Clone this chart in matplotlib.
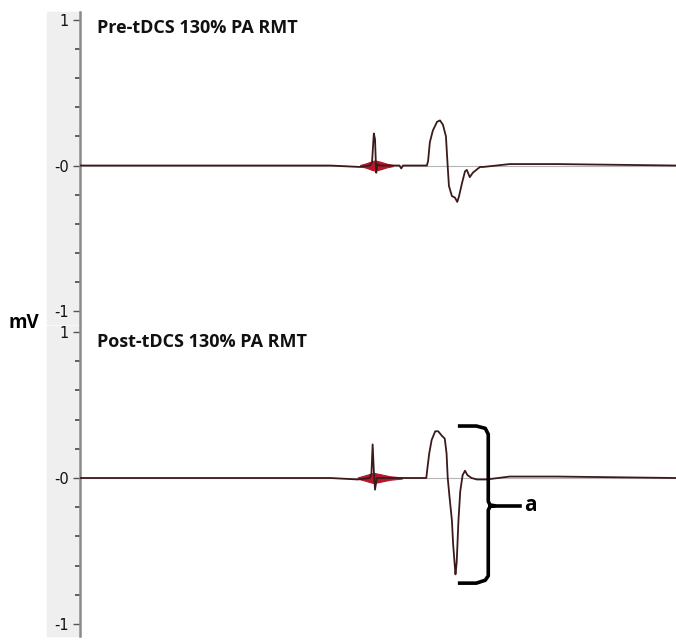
import matplotlib.pyplot as plt
from matplotlib.patches import Rectangle
import numpy as np

# MEP traces, time in ms (0-100 across the panel), amplitude in mV
pre_t = [0, 42, 47.0, 48.6, 49.0, 49.3, 49.5, 49.7, 49.9, 50.3, 52.5, 53.6, 53.9, 54.2,
         58.2, 58.4, 58.7, 59.2, 59.9, 60.4, 60.9, 61.4, 61.6, 61.7, 61.9, 62.4,
         62.9, 63.3, 63.6, 64.1, 64.6, 64.9, 65.4, 65.9, 67.1, 67.6, 72.1, 80, 100]
pre_v = [0, 0, -0.01, 0.0, 0.02, 0.22, 0.18, -0.05, 0.01, 0.0, 0.0, 0.0, -0.02, 0.0,
         0.0, 0.03, 0.16, 0.24, 0.30, 0.31, 0.28, 0.20, 0.06, -0.01, -0.14, -0.21,
         -0.22, -0.25, -0.21, -0.12, -0.04, -0.03, -0.08, -0.05, -0.01, -0.01, 0.01, 0.01, 0.0]

post_t = [0, 42, 46.6, 48.6, 48.9, 49.1, 49.3, 49.5, 49.8, 50.2, 54.0,
          58.1, 58.3, 58.6, 59.0, 59.6, 60.1, 60.7, 61.2, 61.5, 61.7, 62.0, 62.4,
          62.6, 62.9, 63.0, 63.2, 63.5, 63.8, 64.2, 64.6, 65.0, 65.7, 66.6, 68.2,
          72.1, 80, 100]
post_v = [0, 0, -0.01, 0.0, 0.03, 0.23, 0.05, -0.08, 0.0, 0.0, 0.0,
          0.0, 0.07, 0.17, 0.26, 0.32, 0.32, 0.29, 0.27, 0.17, 0.0, -0.13, -0.29,
          -0.45, -0.61, -0.66, -0.58, -0.29, -0.09, 0.02, 0.05, 0.02, 0.0, -0.01, -0.01,
          0.01, 0.01, 0.0]

# stimulus artefact envelope (red)
pre_art_t = [47.0, 48.0, 49.0, 49.5, 50.5, 51.5, 52.5]
pre_art_a = [0.004, 0.015, 0.03, 0.035, 0.025, 0.012, 0.004]
post_art_t = [46.6, 47.8, 48.8, 49.3, 50.5, 52.0, 54.0]
post_art_a = [0.004, 0.018, 0.03, 0.035, 0.025, 0.012, 0.004]

titles = ["Pre-tDCS 130% PA RMT", "Post-tDCS 130% PA RMT"]

trace_col = "#3b1a1c"
red = "#b3182c"

W, H = 676, 640
fig = plt.figure(figsize=(W / 100, H / 100), dpi=100)

panels = [
    (12, 324, (-1.089, 1.055), pre_t, pre_v, pre_art_t, pre_art_a, 28),
    (326, 636, (-1.082, 1.041), post_t, post_v, post_art_t, post_art_a, 342),
]

axes = []
for i, (ytop, ybot, ylim, t, v, at, aa, ty) in enumerate(panels):
    # grey strip behind tick labels
    fig.patches.append(Rectangle((47 / W, 1 - ybot / H), 33 / W, (ybot - ytop) / H,
                                 transform=fig.transFigure, color="#efefef", zorder=-5))
    ax = fig.add_axes([80 / W, 1 - ybot / H, 596 / W, (ybot - ytop) / H])
    ax.set_facecolor("none")
    ax.axhline(0, color="#b5b5b5", lw=0.8, zorder=1)
    ax.fill_between(at, [-a for a in aa], aa, color=red, lw=0.8, zorder=2)
    ax.plot(t, v, color=trace_col, lw=1.3, zorder=3)
    ax.set_xlim(0, 100)
    ax.set_ylim(*ylim)
    for s in ["top", "right", "bottom"]:
        ax.spines[s].set_visible(False)
    ax.spines["left"].set_color("#8a8a8a")
    ax.spines["left"].set_linewidth(1.8)
    ax.set_xticks([])
    ax.set_yticks([-1, 0, 1])
    ax.set_yticklabels(["-1", "-0", "1"])
    ax.set_yticks(np.arange(-0.8, 0.81, 0.2), minor=True)
    ax.tick_params(axis="y", which="major", length=5, width=1, color="#555555",
                   labelsize=10.5, labelcolor="#111111", pad=3)
    ax.tick_params(axis="y", which="minor", length=3.5, width=1.3, color="#555555")
    fig.text(97 / W, 1 - ty / H, titles[i], fontsize=13, fontweight="bold",
             family="Open Sans", color="#111111", va="center", ha="left")
    axes.append(ax)

# brace marking the MEP amplitude in the post panel
ax = axes[1]
brace_x = [63.4, 66.5, 68.0, 68.5, 68.5, 68.8, 69.6, 68.8, 68.5, 68.5, 68.0, 66.5, 63.4]
brace_y = [0.356, 0.356, 0.34, 0.30, -0.16, -0.185, -0.19, -0.195, -0.22, -0.67, -0.70, -0.72, -0.72]
ax.plot(brace_x, brace_y, color="black", lw=2.6, solid_joinstyle="round",
        solid_capstyle="butt", zorder=4)
ax.plot([69.6, 73.8], [-0.19, -0.19], color="black", lw=2.6, zorder=4)
ax.text(74.6, -0.19, "a", fontsize=15, fontweight="bold", family="Open Sans",
        va="center", ha="left")

fig.text(9 / W, 1 - 323 / H, "mV", fontsize=13.5, fontweight="bold",
         family="Open Sans", va="center", ha="left")

fig.savefig("out.png", dpi=100)
